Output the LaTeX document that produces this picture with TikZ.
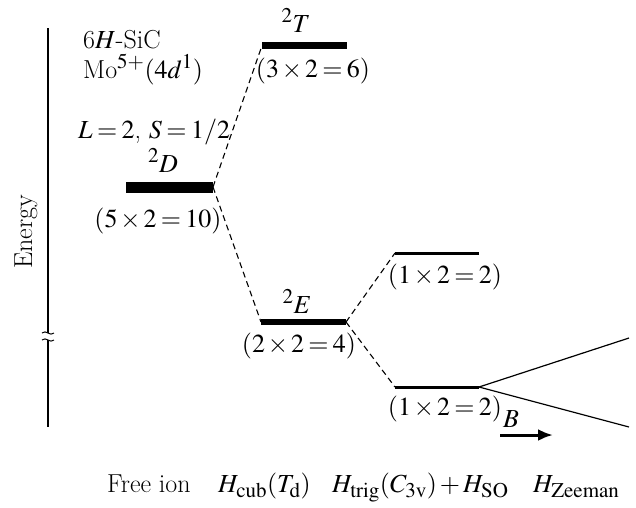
\documentclass[tikz,border=0pt]{standalone}
\usepackage{mathptmx}
\usepackage{tikz}
\usetikzlibrary{arrows.meta}
\DeclareMathSizes{26}{26}{21}{16}
\newcommand\lblfont{\fontsize{26}{31}\selectfont
  \medmuskip=2mu\relax\thickmuskip=3mu\relax}

\begin{document}
\begin{tikzpicture}[x=1pt,y=-1pt,
  lbl/.style={font=\lblfont,inner sep=0pt},
  lvl/.style={line width=#1},
  dsh/.style={dash pattern=on 6pt off 4pt,line width=1.1pt},
  zm/.style={line width=1.2pt},
  fld/.style={-{Latex[length=15pt,width=12pt]},line width=3pt}
]
\useasboundingbox (0,0) rectangle (636,507);

% energy axis with break
\coordinate (ax1) at (48,28);
\coordinate (ax2) at (48,427);
\draw[line width=2.5pt] (ax1) -- (ax2);
\fill[white] (42,333) .. controls (46,329) and (50,337) .. (54,333)
  -- (54,340) .. controls (50,344) and (46,336) .. (42,340) -- cycle;
\draw[line width=1pt] (42,333) .. controls (46,329) and (50,337) .. (54,333);
\draw[line width=1pt] (42,340) .. controls (46,336) and (50,344) .. (54,340);
\node[lbl,rotate=90,anchor=base] (energy) at (32,232) {Energy};

% free ion
\node[lbl,anchor=base west] (host) at (83,48) {6$H$-SiC};
\node[lbl,anchor=base west] (ion) at (83,78) {Mo$^{5+}(4d^{1})$};
\node[lbl,anchor=base west] (LS) at (78,138) {$L = 2$, $S = 1/2$};
\coordinate (Dl) at (126,187);
\coordinate (Dr) at (213,187);
\draw[lvl=11pt] (Dl) -- (Dr);
\node[lbl,anchor=base] (Dterm) at (163,172) {$^2D$};
\node[lbl,anchor=base] (Ddeg) at (158,227) {$(5\times2=10)$};

% cubic field
\coordinate (Tl) at (262,45.5);
\coordinate (Tr) at (347,45.5);
\draw[lvl=7pt] (Tl) -- (Tr);
\node[lbl,anchor=base] (Tterm) at (296,32) {$^2T$};
\node[lbl,anchor=base] (Tdeg) at (313,77) {$(3\times2=6)$};

\coordinate (El) at (261,322);
\coordinate (Er) at (346,322);
\draw[lvl=5.5pt] (El) -- (Er);
\node[lbl,anchor=base] (Eterm) at (297,313) {$^2E$};
\node[lbl,anchor=base] (Edeg) at (299,352) {$(2\times2=4)$};

\draw[dsh] (Dr) -- (Tl);
\draw[dsh] (Dr) -- (El);

% trigonal field + spin-orbit
\coordinate (Ul) at (395,253);
\coordinate (Ur) at (479,253);
\draw[lvl=3pt] (Ul) -- (Ur);
\node[lbl,anchor=base] (Udeg) at (445,283) {$(1\times2=2)$};

\coordinate (Ll) at (395,387);
\coordinate (Lr) at (479,387);
\draw[lvl=3pt] (Ll) -- (Lr);
\node[lbl,anchor=base] (Ldeg) at (445,415) {$(1\times2=2)$};

\draw[dsh] (Er) -- (Ul);
\draw[dsh] (Er) -- (Ll);

% Zeeman splitting
\coordinate (Zu) at (629,338);
\coordinate (Zd) at (629,427);
\draw[zm] (Lr) -- (Zu);
\draw[zm] (Lr) -- (Zd);
\node[lbl,anchor=base] (Bfield) at (511,427) {$B$};
\coordinate (B1) at (500,435);
\coordinate (B2) at (553,435);
\draw[fld] (B1) -- (B2);

% column titles
\node[lbl,anchor=base west] (c1) at (107,492) {Free ion};
\node[lbl,anchor=base west] (c2) at (218,492) {$H_{\mathrm{cub}}(T_{\mathrm{d}})$};
\node[lbl,anchor=base west] (c3) at (332,492) {$H_{\mathrm{trig}}(C_{3\mathrm{v}}) + H_{\mathrm{SO}}$};
\node[lbl,anchor=base west] (c4) at (533,492) {$H_{\mathrm{Zeeman}}$};
\end{tikzpicture}
\end{document}
